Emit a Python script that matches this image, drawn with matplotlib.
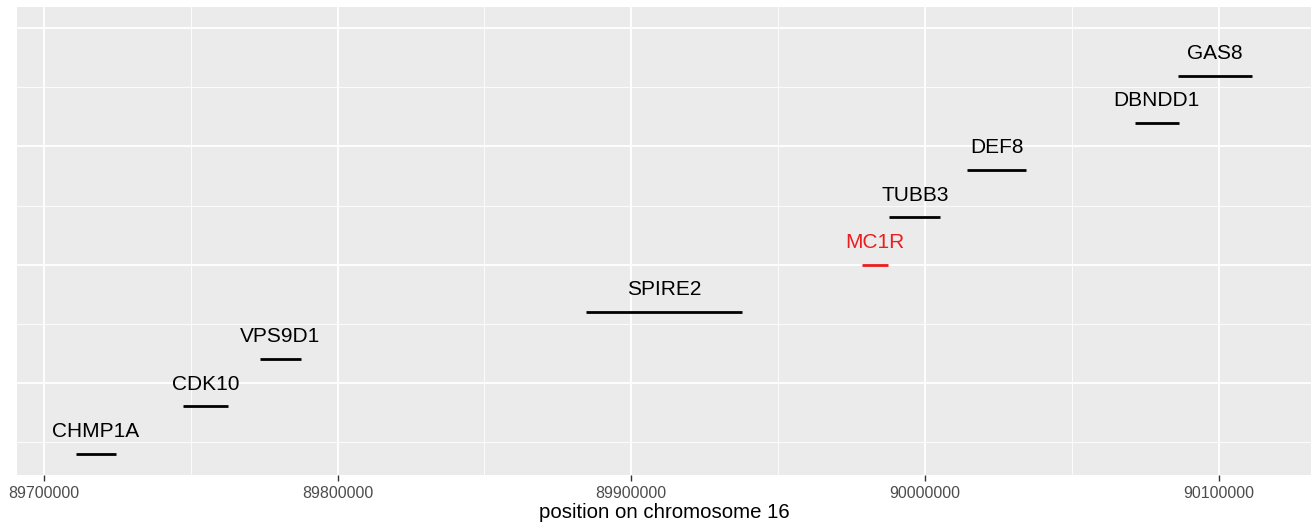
import matplotlib
matplotlib.use("Agg")
from matplotlib import pyplot as plt
import numpy as np

# genes near MC1R on chromosome 16, one per row
genes = ["CHMP1A", "CDK10", "VPS9D1", "SPIRE2", "MC1R", "TUBB3", "DEF8", "DBNDD1", "GAS8"]
starts = [89710900, 89747300, 89773600, 89884700, 89978600, 89987900, 90014500, 90071400, 90086100]
ends = [89724400, 89762800, 89787500, 89937800, 89987300, 90005300, 90034500, 90086600, 90111500]
colours = ["black", "black", "black", "black", "#EE1C1C", "black", "black", "black", "black"]
rows = np.arange(1, len(genes) + 1)

xticks = [89700000, 89800000, 89900000, 90000000, 90100000]

plt.rcParams["font.family"] = ["Liberation Sans", "DejaVu Sans"]

fig = plt.figure(figsize=(13.12, 5.25), dpi=100)
ax = fig.add_axes([17 / 1312, 1 - 475 / 525, (1311 - 17) / 1312, (475 - 7) / 525])
ax.set_facecolor("#EBEBEB")

# ggplot-ish grid: majors every 2.5 rows, minors halfway
ax.set_xlim(89690800, 90131500)
ax.set_ylim(0.55, 10.45)
ax.set_xticks(xticks)
ax.set_xticks([89750000, 89850000, 89950000, 90050000], minor=True)
ax.set_yticks([2.5, 5, 7.5, 10])
ax.set_yticks([1.25, 3.75, 6.25, 8.75], minor=True)
ax.grid(which="major", color="white", linewidth=1.3)
ax.grid(which="minor", color="white", linewidth=0.6)
ax.set_axisbelow(True)
for s in ax.spines.values():
    s.set_visible(False)

# segments and labels
for g, x0, x1, y, c in zip(genes, starts, ends, rows, colours):
    ax.plot([x0, x1], [y, y], color=c, linewidth=2, solid_capstyle="butt")
    ax.text((x0 + x1) / 2, y + 0.47, g, color=c, fontsize=15, ha="center", va="center")

ax.tick_params(axis="x", which="major", length=4, width=1, color="#333333",
               labelsize=11.5, labelcolor="#4D4D4D", pad=4)
ax.tick_params(axis="x", which="minor", length=0)
ax.tick_params(axis="y", which="both", length=0, labelleft=False)
ax.set_xticklabels([str(t) for t in xticks])
ax.set_xlabel("position on chromosome 16", fontsize=14.7, labelpad=1)

fig.savefig("out.png", dpi=100)
